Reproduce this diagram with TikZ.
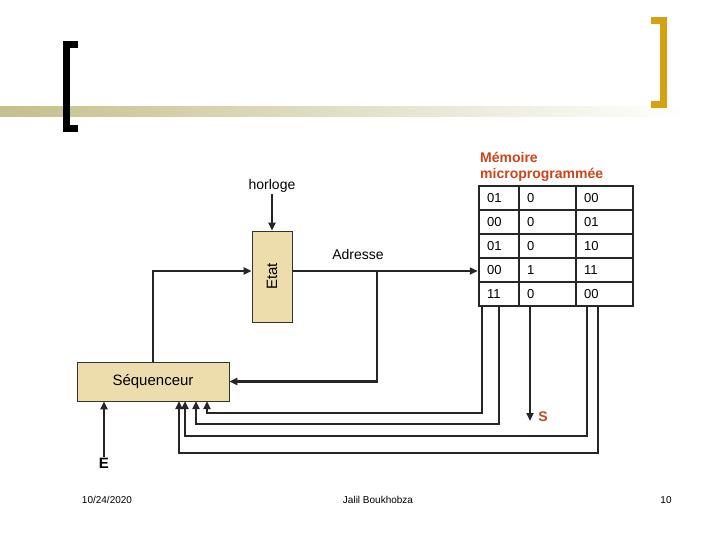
\documentclass[tikz,border=0pt]{standalone}
\usepackage{fontspec}
\setmainfont{Liberation Sans}
\usetikzlibrary{arrows.meta,positioning,calc}
\definecolor{tanfill}{RGB}{238,221,172}
\definecolor{memred}{RGB}{204,68,24}
\definecolor{bandolive}{RGB}{196,192,140}
\definecolor{goldbr}{RGB}{214,160,16}

\begin{document}
\begin{tikzpicture}[
  x=1pt, y=-1pt,
  wire/.style={draw=black!85, line width=2.4pt},
  arr/.style={wire, -{Triangle[length=8pt,width=7pt]}},
  block/.style={draw=black!80, line width=0.8pt, fill=tanfill, inner sep=0pt},
  txt/.style={font=\fontsize{14}{16}\selectfont, inner sep=1pt},
  cell/.style={font=\fontsize{13}{15}\selectfont, anchor=west, inner sep=0pt},
  redlab/.style={font=\fontsize{14}{16}\selectfont\bfseries, text=memred, inner sep=1pt},
  foot/.style={font=\fontsize{10}{12}\selectfont}
]
  \useasboundingbox (0,0) rectangle (720,540);

  % title decoration
  \shade[left color=bandolive, right color=white] (0,107) rectangle (690,117);
  \fill[black] (63,41) rectangle (70,132);
  \fill[black] (63,41) rectangle (78,48);
  \fill[black] (63,125) rectangle (78,132);
  \fill[goldbr] (660,17) rectangle (667,108);
  \fill[goldbr] (651,17) rectangle (667,24);
  \fill[goldbr] (651,101) rectangle (667,108);

  % blocks
  \node[block, rotate=90, minimum width=91pt, minimum height=40pt,
        font=\fontsize{15}{17}\selectfont] (etat) at (272,276.5) {Etat};
  \node[block, minimum width=152pt, minimum height=39pt,
        font=\fontsize{15}{17}\selectfont] (seq) at (153,381.5) {Séquenceur};

  % memoire microprogrammee
  \node[draw=black!85, line width=2.5pt, minimum width=154pt, minimum height=120pt,
        inner sep=0pt] (mem) at (556,246) {};
  \node[redlab, align=left, anchor=south west] (memtitle) at (479,183)
    {Mémoire\\microprogrammée};
  \foreach \r in {1,...,4}
    \draw[line width=2pt, black!85] (479,186+24*\r) -- (633,186+24*\r);
  \draw[line width=2pt, black!85] (519,186) -- (519,306);
  \draw[line width=2pt, black!85] (576,186) -- (576,306);
  \foreach \a/\b/\c [count=\r] in {01/0/00, 00/0/01, 01/0/10, 00/1/11, 11/0/00} {
    \node[cell] (c\r a) at (487,174+24*\r) {\a};
    \node[cell] (c\r b) at (527,174+24*\r) {\b};
    \node[cell] (c\r c) at (584,174+24*\r) {\c};
  }

  % labels
  \node[txt] (horl) at (272,186) {horloge};
  \node[txt] (adr) at (358,254) {Adresse};
  \node[redlab] (slab) at (543,417) {S};
  \node[redlab, font=\fontsize{15}{17}\selectfont\bfseries, text=black] (elab) at (104,463) {E};

  % helper points
  \coordinate (lvl) at (0,271);
  \coordinate (br) at (377,271);
  \coordinate (oa) at (482,306);
  \coordinate (ob) at (499,306);
  \coordinate (oc) at (530,306);
  \coordinate (od) at (587,306);
  \coordinate (oe) at (598,306);
  \coordinate (ia) at (207,401);
  \coordinate (ib) at (196,401);
  \coordinate (id) at (185,401);
  \coordinate (ie) at (179,401);
  \coordinate (sout) at (530,421);

  % connectors
  \draw[arr] (horl.south) -- (etat.east);
  \draw[arr] (seq.north) |- (etat.north |- lvl);
  \draw[arr] (etat.south |- lvl) -- (mem.west |- lvl);
  \draw[arr] (br) |- (seq.east);
  \draw[arr] (oa) -- ++(0,107) -| (ia);
  \draw[arr] (ob) -- ++(0,118) -| (ib);
  \draw[arr] (oc) -- (sout);
  \draw[arr] (od) -- ++(0,130) -| (id);
  \draw[arr] (oe) -- ++(0,147) -| (ie);
  \draw[arr] (elab.north) -- (seq.south -| elab.north);

  % footer
  \node[foot] (date) at (107,500) {10/24/2020};
  \node[foot] (auth) at (378,500) {Jalil Boukhobza};
  \node[foot] (page) at (666,500) {10};
\end{tikzpicture}
\end{document}
